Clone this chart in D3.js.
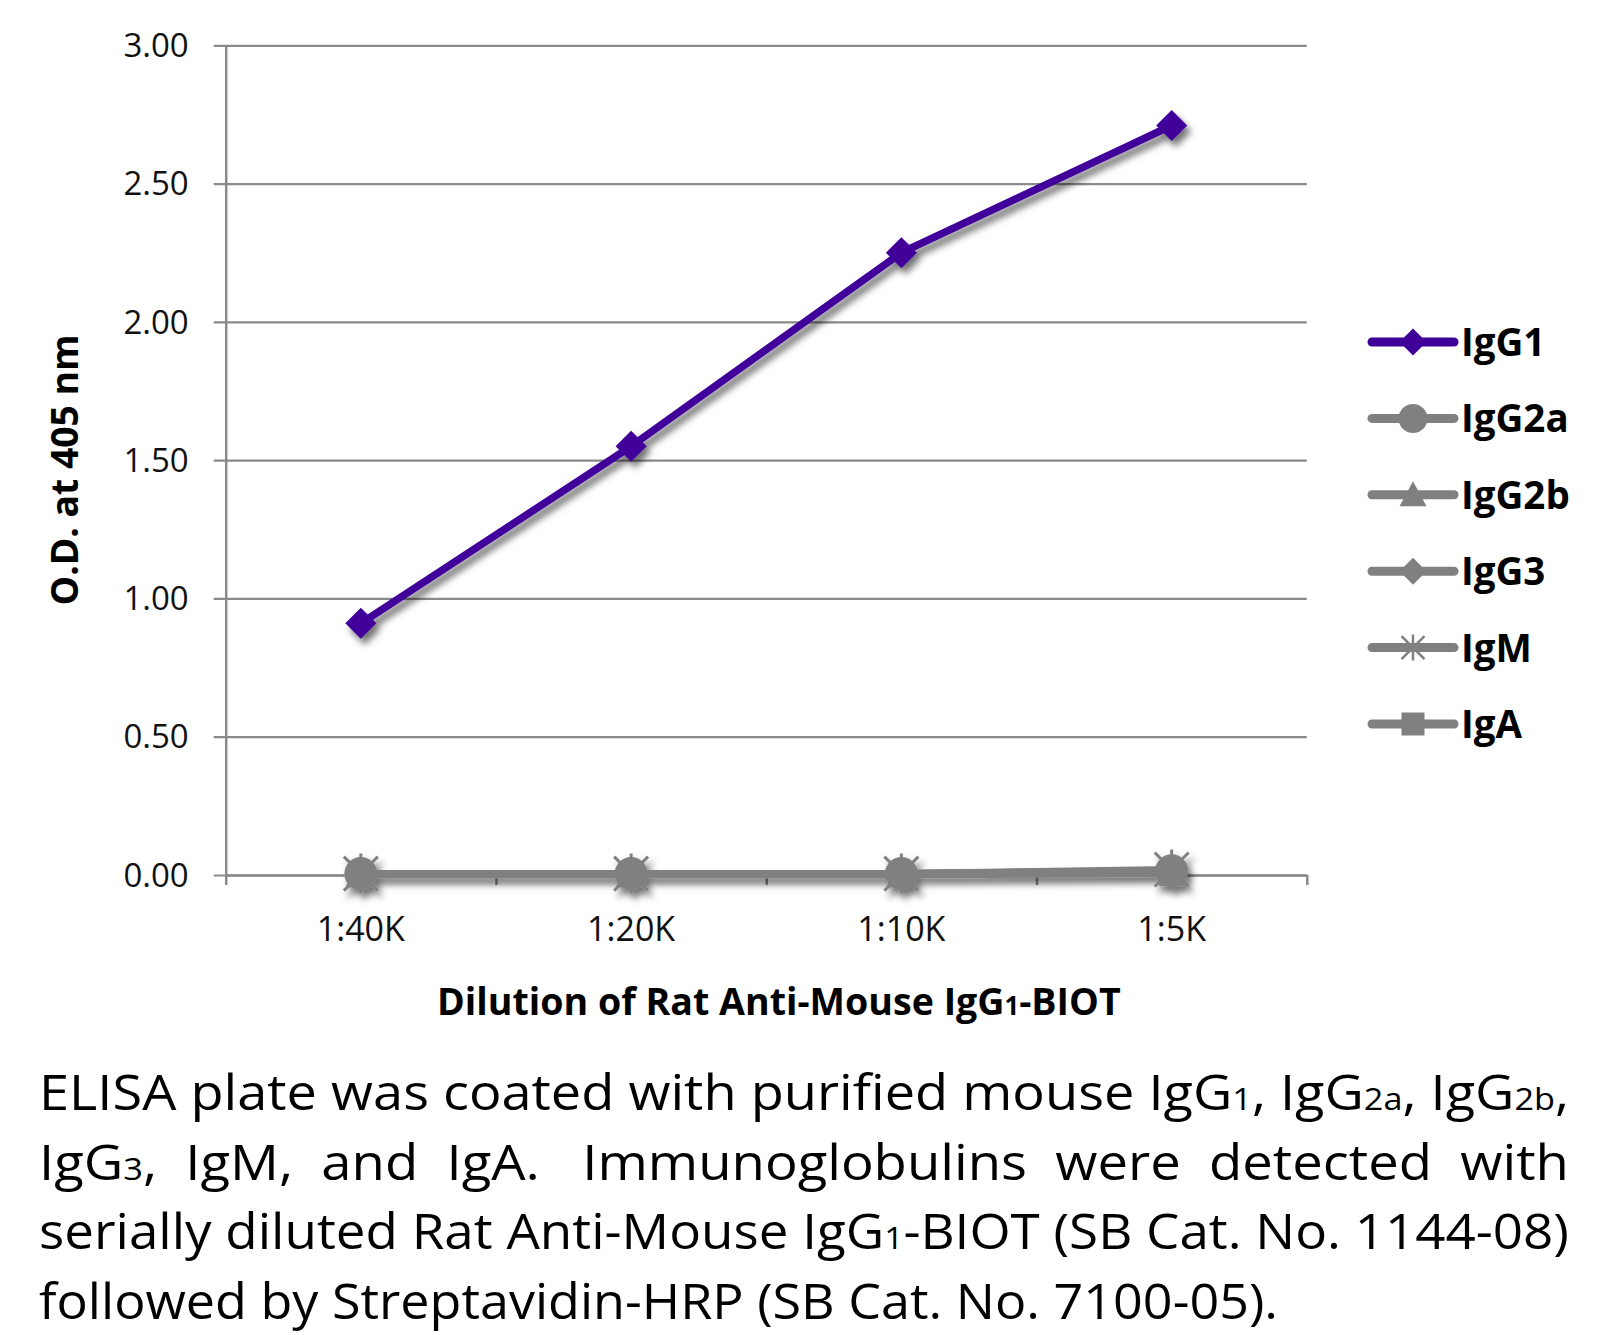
<!DOCTYPE html>
<html><head><meta charset="utf-8">
<script src="https://cdn.jsdelivr.net/npm/d3@7"></script>
<style>
html,body{margin:0;padding:0;background:#fff;}
svg{display:block;}
</style></head>
<body>
<svg id="chart" width="1616" height="1335"></svg>
<script>
const categories = ["1:40K", "1:20K", "1:10K", "1:5K"];
const yTicks = [0, 0.5, 1, 1.5, 2, 2.5, 3];
const seriesNames = ["IgG1", "IgG2a", "IgG2b", "IgG3", "IgM", "IgA"];
const igG1 = [0.91, 1.55, 2.25, 2.71];
const igG2a = [0.005, 0.005, 0.005, 0.015];
const igG2b = [0.005, 0.005, 0.005, 0.015];
const igG3 = [0.005, 0.005, 0.005, 0.015];
const igM = [0.005, 0.005, 0.005, 0.02];
const igA = [0.00, 0.00, 0.00, 0.005];
const seriesValues = [igG1, igG2a, igG2b, igG3, igM, igA];
const seriesColors = ["#3f0099", "#808080", "#808080", "#808080", "#808080", "#808080"];
const seriesSymbols = ["diamond", "circle", "triangle", "diamond", "star", "square"];

const svg = d3.select("#chart");
const defs = svg.append("defs");
const f = defs.append("filter").attr("id","shadow").attr("x","-20%").attr("y","-20%").attr("width","140%").attr("height","160%");
f.append("feDropShadow").attr("dx",4).attr("dy",6).attr("stdDeviation",3.5).attr("flood-color","#000").attr("flood-opacity",0.55);

const L = 225.7, R = 1306.8, T = 45.3, B = 875;
const x = d3.scaleBand().domain(categories).range([L, R]);
const xb = d3.scaleLinear().domain([0, categories.length]).range([L, R]);
const y = d3.scaleLinear().domain([0, 3]).range([B, T]);
const gridColor = "#8a8a8a";

// y axis with gridlines
const gy = svg.append("g").attr("transform", `translate(${L},0)`)
  .call(d3.axisLeft(y).tickValues(yTicks).tickFormat(d3.format(".2f")).tickSize(0).tickPadding(37));
gy.select(".domain").attr("stroke", gridColor).attr("stroke-width", 2.5);
gy.selectAll(".tick line").attr("x1", -12).attr("x2", R - L).attr("stroke", gridColor).attr("stroke-width", 2.2);
gy.selectAll(".tick text").attr("font-family", "'Open Sans', sans-serif").attr("font-size", 33).attr("fill", "#111").attr("dy", "0.34em");

// x axis boundary ticks
const gxb = svg.append("g").attr("transform", `translate(0,${B})`)
  .call(d3.axisBottom(xb).tickValues(d3.range(categories.length + 1)).tickFormat("").tickSize(10).tickSizeOuter(0));
gxb.select(".domain").attr("stroke", gridColor).attr("stroke-width", 2.5);
gxb.selectAll(".tick line").attr("stroke", gridColor).attr("stroke-width", 2.5);

// x labels
const gx = svg.append("g").attr("transform", `translate(0,${B})`)
  .call(d3.axisBottom(x).tickSize(0).tickPadding(0));
gx.select(".domain").remove();
gx.selectAll(".tick text").attr("dy", 66).attr("font-family", "'Open Sans', sans-serif").attr("font-size", 34).attr("fill", "#111");

function symbolPath(kind, s) {
  if (kind === "diamond") return `M0,${-s}L${s},0L0,${s}L${-s},0Z`;
  if (kind === "circle") return d3.symbol(d3.symbolCircle, Math.PI * s * s)();
  if (kind === "triangle") return `M0,${-s}L${s},${s * 0.85}L${-s},${s * 0.85}Z`;
  if (kind === "square") return `M${-s},${-s}H${s}V${s}H${-s}Z`;
  return "";
}
function drawMarker(g, kind, color, cx, cy, big) {
  if (kind === "star") {
    const a = big ? 20 : 13, d = big ? 17 : 11.5;
    const p = `M0,${-a}V${a}M${-d},${-d}L${d},${d}M${d},${-d}L${-d},${d}`;
    g.append("path").attr("d", p).attr("transform", `translate(${cx},${cy})`)
      .attr("stroke", color).attr("stroke-width", big ? 3 : 2.5).attr("fill", "none");
    return;
  }
  const s = big ? { diamond: 15.5, circle: 16.5, triangle: 15, square: 12.5 }[kind]
                : { diamond: 13.5, circle: 14.5, triangle: 13.5, square: 11.5 }[kind];
  g.append("path").attr("d", symbolPath(kind, s)).attr("transform", `translate(${cx},${cy})`).attr("fill", color);
}

const line = d3.line().x((d, i) => x(categories[i]) + x.bandwidth() / 2).y(d => y(d));

// gray series share one shadow group; purple drawn on top with its own
const grayGroup = svg.append("g").attr("filter", "url(#shadow)");
const purpleGroup = svg.append("g").attr("filter", "url(#shadow)");
const order = [5, 4, 3, 2, 1, 0];
order.forEach(si => {
  const g = si === 0 ? purpleGroup : grayGroup.append("g");
  const vals = seriesValues[si];
  g.append("path").datum(vals).attr("d", line).attr("fill", "none")
    .attr("stroke", seriesColors[si]).attr("stroke-width", si === 0 ? 7.5 : 7).attr("stroke-linejoin", "round");
  vals.forEach((v, i) => {
    drawMarker(g, seriesSymbols[si], seriesColors[si], x(categories[i]) + x.bandwidth() / 2, y(v), true);
  });
});

// legend
const legY0 = 342, legDy = 76.4;
seriesNames.forEach((name, i) => {
  const ly = legY0 + i * legDy;
  const g = svg.append("g");
  g.append("line").attr("x1", 1372).attr("x2", 1454).attr("y1", ly).attr("y2", ly)
    .attr("stroke", seriesColors[i]).attr("stroke-width", 9).attr("stroke-linecap", "round");
  drawMarker(g, seriesSymbols[i], seriesColors[i], 1413, ly, false);
  g.append("text").attr("x", 1461).attr("y", ly + 14)
    .attr("font-family", "'Open Sans', sans-serif").attr("font-weight", "bold").attr("font-size", 38.5).attr("fill", "#000")
    .text(name);
});

// axis titles
const xt = svg.append("text").attr("x", 0).attr("y", 0)
  .attr("font-family", "'Open Sans', sans-serif").attr("font-weight", "bold").attr("font-size", 38).attr("fill", "#000");
xt.append("tspan").text("Dilution of Rat Anti-Mouse IgG");
xt.append("tspan").attr("font-size", 26).text("1");
xt.append("tspan").text("-BIOT");
const xtw = xt.node().getComputedTextLength();
xt.attr("transform", `translate(437,1015) scale(${684 / xtw},1)`);

const yt = svg.append("text").attr("text-anchor", "middle")
  .attr("font-family", "'Open Sans', sans-serif").attr("font-weight", "bold").attr("font-size", 37).attr("fill", "#000")
  .text("O.D. at 405 nm");
const ytw = yt.node().getComputedTextLength();
yt.attr("transform", `translate(78,470) rotate(-90) scale(${271 / ytw},1)`);

// caption
const captionLines = [
  [["ELISA plate was coated with purified mouse IgG",0],["1",1],[", IgG",0],["2a",1],[", IgG",0],["2b",1],[",",0]],
  [["IgG",0],["3",1],[",  IgM,  and  IgA.   Immunoglobulins  were  detected  with",0]],
  [["serially diluted Rat Anti-Mouse IgG",0],["1",1],["-BIOT (SB Cat. No. 1144-08)",0]],
  [["followed by Streptavidin-HRP (SB Cat. No. 7100-05).",0]]
];
const capWidths = [1530, 1530, 1530, 1239];
const capBase = [1110, 1180, 1249, 1319];
captionLines.forEach((parts, i) => {
  const t = svg.append("text").attr("x", 39).attr("y", capBase[i])
    .attr("textLength", capWidths[i]).attr("lengthAdjust", "spacingAndGlyphs")
    .attr("font-family", "'Open Sans', sans-serif").attr("font-size", 49).attr("fill", "#000")
    .attr("xml:space", "preserve").style("white-space", "pre");
  parts.forEach(([s, sub]) => {
    t.append("tspan").attr("font-size", sub ? 31 : 49).text(s);
  });
});
</script>
</body></html>
